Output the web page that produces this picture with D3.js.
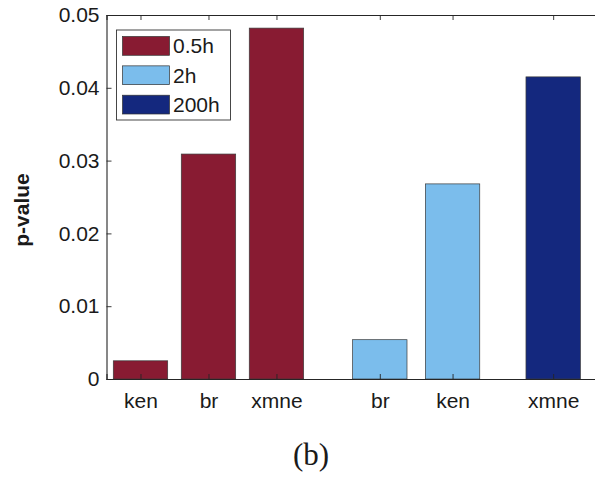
<!DOCTYPE html>
<html>
<head>
<meta charset="utf-8">
<script src="https://cdn.jsdelivr.net/npm/d3@7"></script>
<style>
  html, body { margin: 0; padding: 0; background: #fff; }
  svg { display: block; }
  text { font-family: "Liberation Sans", Arial, Helvetica, sans-serif; fill: #1a1a1a; }
</style>
</head>
<body>
<svg id="chart" width="595" height="477"></svg>
<script>
// Method labels along the x axis, their x positions, p-values and time group
const categories = ["ken", "br", "xmne", "br", "ken", "xmne"];
const positions  = [1, 2, 3, 4.52, 5.59, 7.07];
const pValues    = [0.0025, 0.0309, 0.0482, 0.0054, 0.0268, 0.0415];
const groups     = ["0.5h", "0.5h", "0.5h", "2h", "2h", "200h"];

// Legend entries and their fills
const seriesNames  = ["0.5h", "2h", "200h"];
const seriesColors = ["#881B32", "#7BBDEC", "#14287E"];

// Y axis ticks
const yTicks = [0, 0.01, 0.02, 0.03, 0.04, 0.05];

const svg = d3.select("#chart");

const plot = { left: 106.5, right: 596, top: 15, bottom: 379 };

const x = d3.scaleLinear().domain([0.5, 7.7]).range([plot.left, plot.right]);
const y = d3.scaleLinear().domain([0, 0.05]).range([plot.bottom, plot.top]);
const color = d3.scaleOrdinal().domain(seriesNames).range(seriesColors);

const barWidth = 0.8; // in x units
const rows = categories.map((c, i) => ({ cat: c, pos: positions[i], v: pValues[i], g: groups[i] }));

// Bars
svg.append("g")
  .selectAll("rect")
  .data(rows)
  .join("rect")
  .attr("x", d => x(d.pos - barWidth / 2))
  .attr("width", d => x(d.pos + barWidth / 2) - x(d.pos - barWidth / 2))
  .attr("y", d => y(d.v))
  .attr("height", d => y(0) - y(d.v))
  .attr("fill", d => color(d.g))
  .attr("stroke", "#3a3a3a")
  .attr("stroke-width", 0.7);

const axisColor = "#262626";

// Left axis with inward ticks
const yAxis = svg.append("g")
  .attr("transform", `translate(${plot.left},0)`)
  .call(d3.axisLeft(y)
    .tickValues(yTicks)
    .tickSize(-5)
    .tickPadding(7)
    .tickFormat(d => d === 0 ? "0" : d3.format(".2f")(d)));
yAxis.selectAll("text").attr("font-size", 21).attr("font-family", null);

// Bottom axis with inward ticks, labelled by method
const xAxis = svg.append("g")
  .attr("transform", `translate(0,${plot.bottom})`)
  .call(d3.axisBottom(x)
    .tickValues(positions)
    .tickSize(-5)
    .tickPadding(14)
    .tickFormat((d, i) => categories[i]));
xAxis.selectAll("text").attr("font-size", 21).attr("font-family", null);

// Top axis line with inward ticks (no labels)
svg.append("g")
  .attr("transform", `translate(0,${plot.top})`)
  .call(d3.axisTop(x)
    .tickValues(positions)
    .tickSize(-5)
    .tickFormat(""));

svg.selectAll(".domain").attr("stroke", axisColor).attr("stroke-width", 1.1);
svg.selectAll(".tick line").attr("stroke", axisColor).attr("stroke-width", 0.9);

// Y axis title
svg.append("text")
  .attr("transform", "translate(29,210) rotate(-90)")
  .attr("text-anchor", "middle")
  .attr("font-size", 21)
  .attr("font-weight", "bold")
  .text("p-value");

// Legend
const legend = svg.append("g");
legend.append("rect")
  .attr("x", 116.5).attr("y", 30)
  .attr("width", 114).attr("height", 90)
  .attr("fill", "#fff")
  .attr("stroke", "#333")
  .attr("stroke-width", 0.9);

const legendRow = d3.scaleBand().domain(seriesNames).range([36.5, 114]).paddingInner(0.36);

const items = legend.selectAll("g.item")
  .data(seriesNames)
  .join("g")
  .attr("class", "item");

items.append("rect")
  .attr("x", 122.5)
  .attr("y", d => legendRow(d))
  .attr("width", 47)
  .attr("height", legendRow.bandwidth())
  .attr("fill", d => color(d))
  .attr("stroke", "#333")
  .attr("stroke-width", 0.7);

items.append("text")
  .attr("x", 173)
  .attr("y", d => legendRow(d) + legendRow.bandwidth() / 2)
  .attr("dy", "0.36em")
  .attr("font-size", 21)
  .text(d => d);

// Panel caption
svg.append("text")
  .attr("x", 311)
  .attr("y", 465)
  .attr("text-anchor", "middle")
  .style("font-family", "'Liberation Serif', 'Times New Roman', serif")
  .attr("font-size", 31)
  .text("(b)");
</script>
</body>
</html>
